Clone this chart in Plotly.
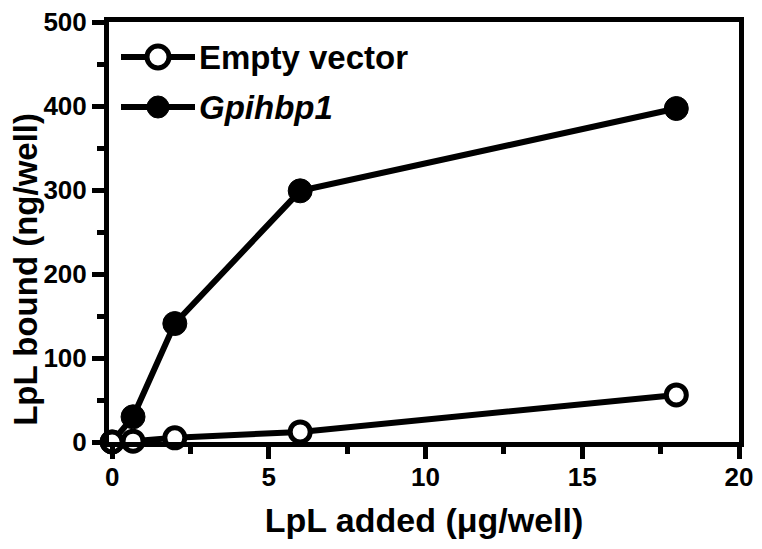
import plotly.graph_objects as go

# LpL added (ug/well), threefold dilution series
lpl_added = [0, 0.667, 2, 6, 18]
empty_vector = [0, 1, 5, 12, 56]
gpihbp1 = [0, 30, 141, 299, 397]

legend_labels = ["Empty vector", "<i>Gpihbp1</i>"]

FONT = "Liberation Sans, Arial, Helvetica, sans-serif"
BOLD = dict(family=FONT, color="black", weight="bold")

fig = go.Figure()
fig.add_trace(go.Scatter(
    x=lpl_added,
    y=gpihbp1,
    mode="lines+markers",
    name=legend_labels[1],
    line=dict(color="black", width=6),
    marker=dict(size=24, color="black", line=dict(color="black", width=1)),
    cliponaxis=False,
))
fig.add_trace(go.Scatter(
    x=lpl_added,
    y=empty_vector,
    mode="lines+markers",
    name=legend_labels[0],
    line=dict(color="black", width=6),
    marker=dict(size=20, color="white", line=dict(color="black", width=5)),
    cliponaxis=False,
))

# hand-drawn legend (Prism style: long line with big marker in the middle)
for i, label in enumerate(legend_labels):
    yshift = -35 - 50 * i
    fig.add_shape(type="line", xref="paper", yref="paper",
                  xsizemode="pixel", ysizemode="pixel",
                  xanchor=0, yanchor=1, x0=12, x1=86, y0=yshift, y1=yshift,
                  line=dict(color="black", width=6))
    fig.add_shape(type="circle", xref="paper", yref="paper",
                  xsizemode="pixel", ysizemode="pixel",
                  xanchor=0, yanchor=1, x0=38, x1=60,
                  y0=yshift - 11, y1=yshift + 11,
                  fillcolor="white" if i == 0 else "black",
                  line=dict(color="black", width=5 if i == 0 else 1))
    fig.add_annotation(text=label, xref="paper", yref="paper",
                       x=0, y=1, xshift=88, yshift=yshift,
                       xanchor="left", yanchor="middle", showarrow=False,
                       font=dict(**BOLD, size=33))

# y title as an annotation so it can sit a bit low, like the original
fig.add_annotation(text="LpL bound (ng/well)", xref="paper", yref="paper",
                   x=0, y=0.41, xshift=-83, textangle=-90,
                   xanchor="center", yanchor="middle", showarrow=False,
                   font=dict(**BOLD, size=33))

axis_common = dict(
    automargin=False,
    showline=True,
    linecolor="black",
    linewidth=5,
    mirror=True,
    showgrid=False,
    zeroline=False,
    ticks="outside",
    ticklen=12,
    tickwidth=5,
    tickcolor="black",
    tickfont=dict(**BOLD, size=26),
    ticklabeloverflow="allow",
)

fig.update_layout(
    width=762,
    height=549,
    paper_bgcolor="white",
    plot_bgcolor="white",
    font=BOLD,
    showlegend=False,
    margin=dict(l=101, r=31, t=14, b=115),
    xaxis=dict(
        **axis_common,
        range=[-0.1, 20],
        tickvals=[0, 5, 10, 15, 20],
        ticklabelstandoff=-4,
        minor=dict(ticks="outside", tickvals=[2.5, 7.5, 12.5, 17.5],
                   ticklen=7, tickwidth=5, tickcolor="black"),
        title=dict(text="LpL added (μg/well)", standoff=18,
                   font=dict(**BOLD, size=34)),
    ),
    yaxis=dict(
        **axis_common,
        range=[0, 500],
        tickvals=[0, 100, 200, 300, 400, 500],
        minor=dict(ticks="outside", tickvals=[50, 150, 250, 350, 450],
                   ticklen=7, tickwidth=5, tickcolor="black"),
    ),
)

fig.write_html("out.html")
